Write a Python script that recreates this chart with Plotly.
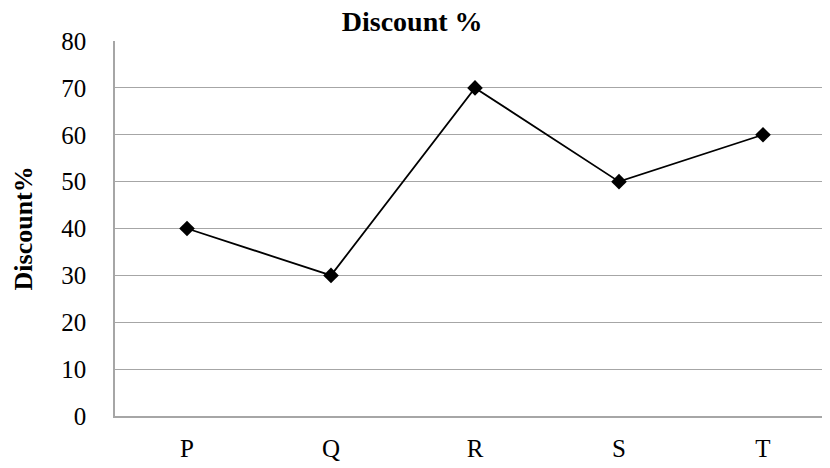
import plotly.graph_objects as go

categories = ["P", "Q", "R", "S", "T"]
discount = [40, 30, 70, 50, 60]
y_ticks = [0, 10, 20, 30, 40, 50, 60, 70, 80]

FONT = "Liberation Serif"
GRID = "#a6a6a6"

fig = go.Figure()
fig.add_trace(go.Scatter(
    x=categories, y=discount, mode="lines+markers",
    line=dict(color="black", width=1.8),
    marker=dict(symbol="diamond", size=12, color="black"),
    showlegend=False,
))

fig.update_layout(
    width=830, height=460,
    margin=dict(l=107, r=3, t=33, b=52),
    paper_bgcolor="white", plot_bgcolor="white",
    title=dict(text="<b>Discount %</b>", x=0.487, xanchor="center", y=0.972, yanchor="middle",
               font=dict(family=FONT, size=28, color="black")),
    xaxis=dict(showgrid=False, showline=True, linecolor=GRID, linewidth=1.5,
               ticks="", tickfont=dict(family=FONT, size=25, color="black"),
               ticklabelstandoff=9, range=[-0.5, 4.5]),
    yaxis=dict(range=[0, 80], tickvals=y_ticks, showgrid=True, gridcolor=GRID, gridwidth=1.3,
               showline=True, linecolor=GRID, linewidth=1.5, ticks="",
               tickfont=dict(family=FONT, size=25, color="black"),
               ticklabelstandoff=22, zeroline=False),
    annotations=[dict(text="<b>Discount%</b>", textangle=-90, xref="paper", yref="paper",
                      x=-0.1264, y=0.5, xanchor="center", yanchor="middle", showarrow=False,
                      font=dict(family=FONT, size=26, color="black"))],
)

fig.write_html("out.html")
